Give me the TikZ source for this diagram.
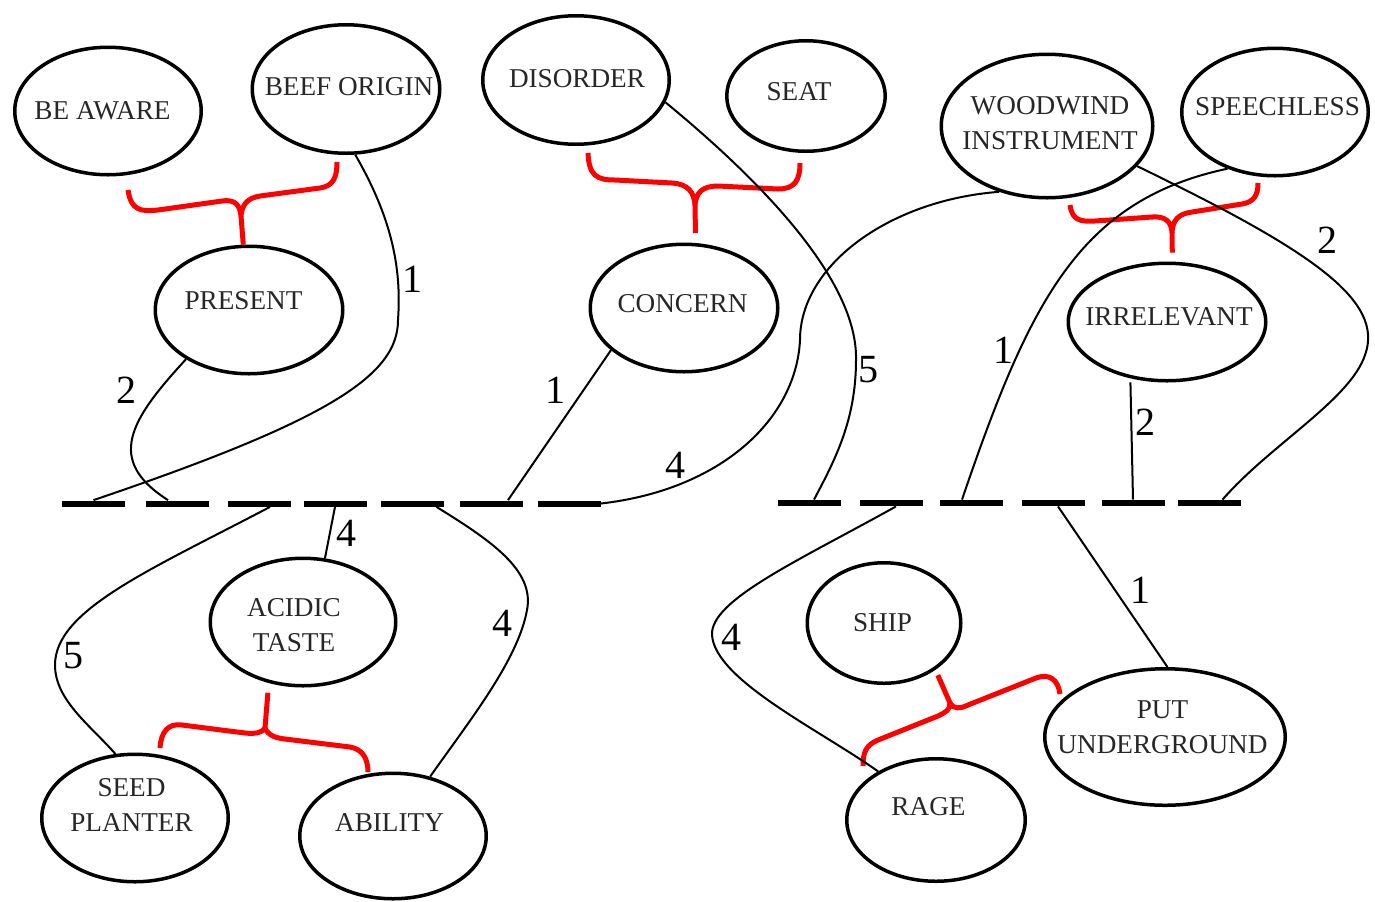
\documentclass[tikz,border=0pt]{standalone}
\usepackage{fontspec}
\setmainfont{Liberation Serif}
\usetikzlibrary{shapes.geometric}

\begin{document}
\begin{tikzpicture}[line join=round,x=0.5pt,y=-0.5pt,
  bubble/.style={ellipse,draw,line width=1.75pt,inner sep=0pt},
  word/.style={align=center,text=black!85,font=\fontsize{13.6}{17.5}\selectfont},
  slot/.style={fill=black,inner sep=0pt,minimum width=31.5pt,minimum height=3pt},
  wire/.style={line width=1pt},
  num/.style={font=\fontsize{20}{24}\selectfont},
  redbrace/.style={red,line width=2.5pt}]
\useasboundingbox (0,0) rectangle (1375,901);
% clue bubbles
\node [bubble,minimum width=93.25pt,minimum height=63.75pt,label={[word,shift={(-5.5,0)}]center:BE AWARE}] (aware) at (108,111) {};
\node [bubble,minimum width=93.75pt,minimum height=64.25pt,label={[word,shift={(3,-2)}]center:BEEF ORIGIN}] (beef) at (346,89) {};
\node [bubble,minimum width=93.75pt,minimum height=63.75pt,label={[word,shift={(-5.5,-9)}]center:PRESENT}] (present) at (249,310) {};
\node [bubble,minimum width=93.25pt,minimum height=64.25pt,label={[word,shift={(1,-1)}]center:DISORDER}] (disorder) at (576,80) {};
\node [bubble,minimum width=79.25pt,minimum height=55.25pt,label={[word,shift={(-7,-4)}]center:SEAT}] (seat) at (806,96) {};
\node [bubble,minimum width=93.75pt,minimum height=63.75pt,label={[word,shift={(-1.5,-4)}]center:CONCERN}] (concern) at (684,308) {};
\node [bubble,minimum width=105.75pt,minimum height=71.75pt,label={[word,shift={(3,-3)}]center:WOODWIND\\INSTRUMENT}] (woodwind) at (1047,126) {};
\node [bubble,minimum width=93.25pt,minimum height=63.75pt,label={[word,shift={(2.5,-5)}]center:SPEECHLESS}] (speechless) at (1275,112) {};
\node [bubble,minimum width=98.75pt,minimum height=58.75pt,label={[word,shift={(2,-5)}]center:IRRELEVANT}] (irrelevant) at (1167,322) {};
\node [bubble,minimum width=92.75pt,minimum height=63.75pt,label={[word,shift={(-9,3)}]center:ACIDIC\\TASTE}] (acidic) at (303,622) {};
\node [bubble,minimum width=93.25pt,minimum height=63.75pt,label={[word,shift={(-3.5,-13)}]center:SEED\\PLANTER}] (seed) at (135,818) {};
\node [bubble,minimum width=93.25pt,minimum height=62.75pt,label={[word,shift={(-3.5,-13)}]center:ABILITY}] (ability) at (393,836) {};
\node [bubble,minimum width=76.75pt,minimum height=60.25pt,label={[word,shift={(-1.5,0)}]center:SHIP}] (ship) at (884,623) {};
\node [bubble,minimum width=120.25pt,minimum height=68.25pt,label={[word,shift={(-2.5,-10)}]center:PUT\\UNDERGROUND}] (putunder) at (1165,737) {};
\node [bubble,minimum width=89.25pt,minimum height=61.25pt,label={[word,shift={(-7.5,-13)}]center:RAGE}] (rage) at (936,820) {};
% letter slots
\node [slot] (L1) at (93.5,503.5) {};
\node [slot] (L2) at (177,503.5) {};
\node [slot] (L3) at (259,503.5) {};
\node [slot] (L4) at (335,503.5) {};
\node [slot] (L5) at (412.5,503.5) {};
\node [slot] (L6) at (491,503.5) {};
\node [slot] (L7) at (569,503.5) {};
\node [slot] (R1) at (809,503) {};
\node [slot] (R2) at (891,503) {};
\node [slot] (R3) at (971,503) {};
\node [slot] (R4) at (1053,503) {};
\node [slot] (R5) at (1133,503) {};
\node [slot] (R6) at (1209.5,503) {};
% braces
\draw [redbrace] (128,190) .. controls (131,210) and (140,212) .. (158,210) -- (222,201) .. controls (235,199) and (240,205) .. (241,216) .. controls (242,205) and (247,198) .. (260,196) -- (320,188) .. controls (333,186) and (337,178) .. (337,162);
\draw [redbrace] (241,216) -- (present.95);
\draw [redbrace] (588,153) .. controls (589,176) and (597,180) .. (615,180) -- (672,183) .. controls (688,184) and (694,192) .. (695,205) .. controls (696,192) and (703,186) .. (718,186) -- (778,189) .. controls (795,189) and (800,180) .. (800,163);
\draw [redbrace] (695,205) -- ([yshift=5pt]concern.80);
\draw [redbrace] (1070,205) .. controls (1072,220) and (1080,222) .. (1095,221) -- (1152,217) .. controls (1166,216) and (1171,222) .. (1172,232) .. controls (1173,220) and (1178,214) .. (1192,212) -- (1242,204) .. controls (1254,202) and (1258,195) .. (1258,183);
\draw [redbrace] (1172,232) -- ([yshift=4.5pt]irrelevant.85);
\draw [redbrace] ([yshift=-5pt]acidic.-120) -- (265,728);
\draw [redbrace] (160,748) .. controls (161,732) and (168,723) .. (182,725) -- (245,733) .. controls (255,734) and (262,733) .. (265,728) .. controls (268,735) and (275,738) .. (285,739) -- (350,747) .. controls (362,749) and (368,758) .. (368,772);
\draw [redbrace] ([yshift=-3.5pt]ship.-40) -- (950,703);
\draw [redbrace] (863,766) .. controls (863,752) and (866,745) .. (878,740) -- (938,716) .. controls (946,712) and (950,710) .. (950,703) .. controls (953,709) and (960,709) .. (968,705) -- (1036,678) .. controls (1050,673) and (1058,680) .. (1060,694);
% links to the slots
\draw [wire] (beef.-82) .. controls (390,215) and (402,265) .. (398,320) .. controls (398,375) and (330,420) .. (L1.north);
\draw [wire] (present.218) .. controls (130,420) and (105,460) .. ([xshift=-4.5pt]L2.north);
\draw [wire] (concern.210) -- ([xshift=8.5pt]L6.north);
\draw [wire] (woodwind.234) .. controls (890,200) and (800,265) .. (800,340) .. controls (796,420) and (720,490) .. (L7.east);
\draw [wire] (disorder.-14) .. controls (760,180) and (858,280) .. (856,360) .. controls (856,420) and (835,460) .. ([xshift=2.5pt]R1.north);
\draw [wire] (speechless.230) .. controls (1080,200) and (1030,300) .. ([xshift=-4.5pt]R3.north);
\draw [wire] (woodwind.-24) .. controls (1310,250) and (1385,300) .. (1365,355) .. controls (1350,400) and (1270,445) .. ([xshift=6.5pt]R6.north);
\draw [wire] ([yshift=-2pt]irrelevant.-123) -- (R5.north);
\draw [wire] ([xshift=5.5pt]L3.south) .. controls (150,570) and (55,610) .. (55,665) .. controls (55,700) and (90,725) .. (seed.107);
\draw [wire] (L4.south) -- (acidic.71);
\draw [wire] ([xshift=12pt]L5.south) .. controls (490,540) and (535,570) .. (527,610) .. controls (518,660) and (470,720) .. (ability.58);
\draw [wire] ([xshift=2.5pt]R2.south) .. controls (800,560) and (710,600) .. (712,635) .. controls (715,680) and (820,730) .. (rage.140);
\draw [wire] ([xshift=2.5pt]R4.south) -- (putunder.88);
% counts
\node [num] (cbeef) at (412,279) {1};
\node [num] (cpresent) at (126,390) {2};
\node [num] (cconcern) at (555,390) {1};
\node [num] (cwoodl) at (675,465) {4};
\node [num] (cdisorder) at (868,370) {5};
\node [num] (cspeech) at (1003,350) {1};
\node [num] (cirrel) at (1145,422) {2};
\node [num] (cwoodr) at (1327,240) {2};
\node [num] (cacidic) at (346,533) {4};
\node [num] (cseed) at (73,656) {5};
\node [num] (cability) at (502,623) {4};
\node [num] (crage) at (731,637) {4};
\node [num] (cputunder) at (1140,590) {1};
\end{tikzpicture}
\end{document}
